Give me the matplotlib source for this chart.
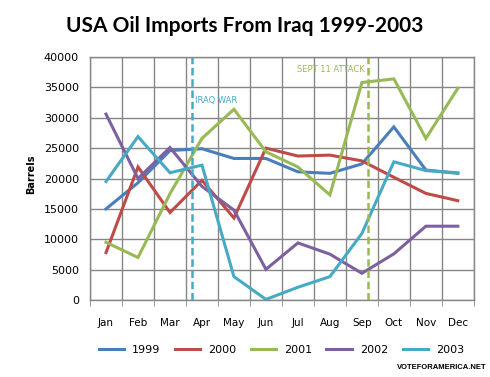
import matplotlib
matplotlib.use("Agg")
import matplotlib.pyplot as plt

months = ["Jan", "Feb", "Mar", "Apr", "May", "Jun", "Jul", "Aug", "Sep", "Oct", "Nov", "Dec"]
years = ["1999", "2000", "2001", "2002", "2003"]
imports_1999 = [15000, 19300, 24600, 24900, 23300, 23300, 21100, 20850, 22400, 28500, 21400, 20850]
imports_2000 = [7800, 21900, 14400, 19700, 13500, 25000, 23700, 23850, 22900, 20200, 17550, 16350]
imports_2001 = [9500, 7000, 17500, 26600, 31400, 24400, 21900, 17300, 35800, 36400, 26600, 34850]
imports_2002 = [30600, 20000, 25100, 18700, 14800, 5050, 9400, 7550, 4400, 7600, 12150, 12150]
imports_2003 = [19500, 26900, 20950, 22200, 3850, 100, 2100, 3850, 10950, 22750, 21300, 20950]
colors = ["#4A7EBB", "#BE4B48", "#98B954", "#7D60A0", "#46AAC5"]

# events, position in month index units
iraq_war = 2.69
sept_11 = 8.2

fig = plt.figure(figsize=(4.9, 3.77), dpi=100)
ax = fig.add_axes([0.1837, 0.2042, 0.7833, 0.6446])

x = range(len(months))
for yr, vals, c in zip(years, [imports_1999, imports_2000, imports_2001, imports_2002, imports_2003], colors):
    ax.plot(x, vals, color=c, lw=2.2, label=yr, solid_joinstyle="miter")

ax.axvline(iraq_war, color="#46AAC5", lw=1.8, ls=(0, (3, 1.5)))
ax.axvline(sept_11, color="#98B954", lw=1.8, ls=(0, (3, 1.5)))
ax.text(iraq_war + 0.1, 32900, "IRAQ WAR", color="#46AAC5", fontsize=6, va="center")
ax.text(sept_11 - 0.12, 37900, "SEPT 11 ATTACK", color="#98B954", fontsize=6, va="center", ha="right")

ax.set_xlim(-0.5, 11.5)
ax.set_ylim(0, 40000)
ax.set_yticks(range(0, 40001, 5000))
ax.set_xticks(list(x))
ax.set_xticklabels(months)
ax.set_xticks([i - 0.5 for i in range(13)], minor=True)
ax.tick_params(axis="x", which="major", length=0, pad=13, labelsize=7.5)
ax.tick_params(axis="x", which="minor", length=4, color="#868686")
ax.tick_params(axis="y", length=0, pad=8, labelsize=8)
ax.grid(True, which="minor", axis="x", color="#868686", lw=1)
ax.grid(True, which="major", axis="y", color="#868686", lw=1)
ax.set_axisbelow(True)
for s in ax.spines.values():
    s.set_color("#868686")
    s.set_linewidth(1)

fig.text(0.063, 0.538, "Barrels", rotation=90, fontsize=7, fontweight="bold", ha="center", va="center")
fig.text(0.5, 0.93, "USA Oil Imports From Iraq 1999-2003", fontsize=15, fontweight="bold",
         family="Lato", ha="center", va="center")
fig.legend(loc="center", bbox_to_anchor=(0.574, 0.072), ncol=5, frameon=False, fontsize=8,
           handlelength=2.3, columnspacing=1.3, handletextpad=0.7)
fig.text(0.994, 0.024, "VOTEFORAMERICA.NET", fontsize=5.5, fontweight="bold",
         family="Liberation Sans", ha="right", va="center")

fig.savefig("out.png", dpi=100)
